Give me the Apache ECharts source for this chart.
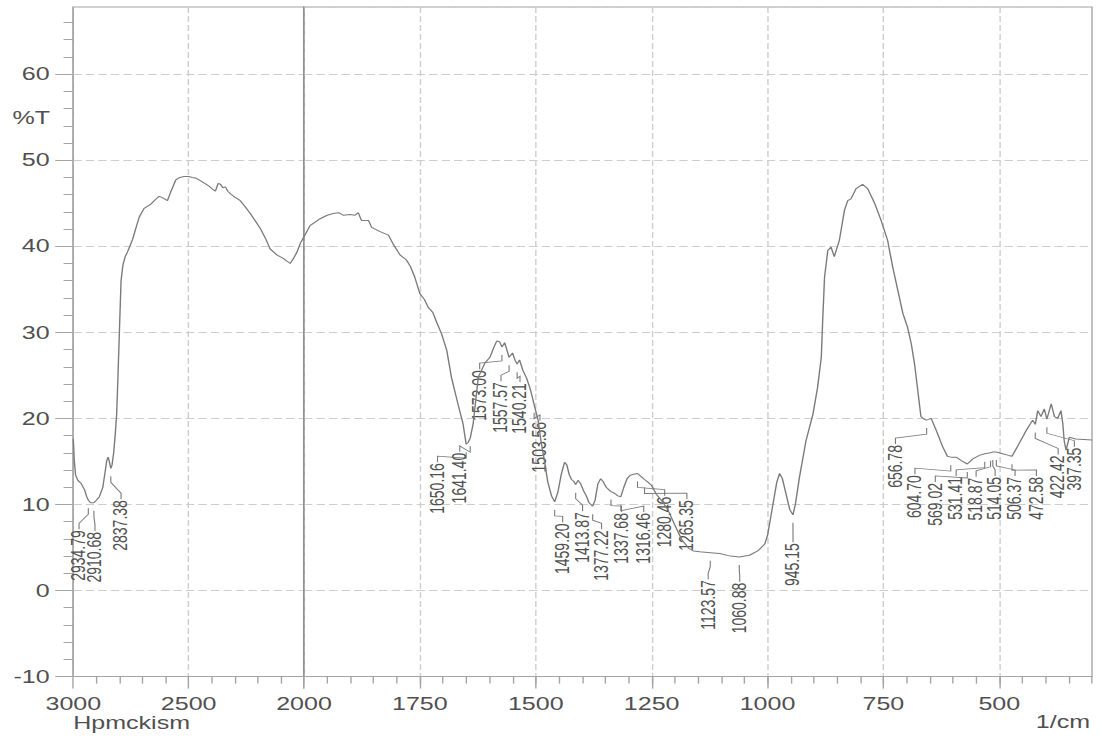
<!DOCTYPE html>
<html>
<head>
<meta charset="utf-8">
<script src="https://cdn.jsdelivr.net/npm/echarts@6/dist/echarts.min.js"></script>
<style>
  html, body { margin: 0; padding: 0; background: #fff; overflow: hidden; }
  #chart { position: absolute; left: 0; top: 0; transform-origin: 0 0; }
</style>
</head>
<body>
<div id="chart"></div>
<script>
// ---- FTIR transmittance spectrum, [wavenumber (1/cm), %T] ----
// 3000-2000 1/cm (compressed half-scale section)
const specHigh = [
  [3000, 17.6], [2996, 15.2], [2990, 13.4], [2980, 12.8], [2965, 12.4], [2951, 11.7],
  [2942, 10.9], [2925, 10.2], [2900, 10.5], [2887, 10.9], [2872, 12.0], [2862, 13.8],
  [2855, 15.1], [2849, 15.5], [2844, 15.0], [2832, 14.6], [2825, 16.0], [2818, 18.2],
  [2812, 20.5], [2807, 24.4], [2800, 30.2], [2793, 36.0], [2785, 37.8], [2775, 38.8],
  [2764, 39.4], [2743, 40.8], [2730, 42.0], [2714, 43.4], [2693, 44.4], [2664, 44.9],
  [2645, 45.4], [2628, 45.8], [2610, 45.6], [2592, 45.3], [2578, 46.3], [2556, 47.7],
  [2538, 48.0], [2520, 48.1], [2500, 48.1], [2484, 48.0], [2466, 47.9], [2448, 47.6],
  [2430, 47.3], [2412, 47.0], [2395, 46.6], [2384, 46.4], [2372, 47.3], [2362, 47.2],
  [2352, 46.8], [2341, 46.9], [2330, 46.4], [2319, 46.1], [2300, 45.7], [2276, 45.3],
  [2255, 44.6], [2233, 43.8], [2210, 42.9], [2190, 42.1], [2165, 40.8], [2147, 39.7],
  [2118, 39.0], [2090, 38.6], [2060, 38.0], [2045, 38.6], [2031, 39.3], [2015, 40.4],
  [2000, 41.1]
];
// 2000-300 1/cm
const specLow = [
  [2000, 41.1], [1987, 42.4], [1965, 43.2], [1950, 43.6], [1937, 43.8], [1925, 43.9],
  [1915, 43.6], [1901, 43.7], [1890, 43.6], [1883, 43.9], [1876, 43.0], [1861, 43.0],
  [1854, 42.2], [1836, 41.7], [1818, 41.3], [1808, 40.3], [1793, 39.0], [1779, 38.4],
  [1770, 37.6], [1761, 36.4], [1750, 34.5], [1740, 33.8], [1732, 32.9], [1722, 32.3],
  [1714, 31.2], [1703, 29.8], [1692, 27.9], [1682, 24.8], [1668, 21.7], [1657, 19.4],
  [1653, 18.0], [1646, 17.2], [1635, 19.4], [1624, 24.8], [1610, 26.4], [1599, 27.1],
  [1590, 28.3], [1584, 29.0], [1578, 28.9], [1567, 28.8], [1562, 27.9], [1550, 27.6],
  [1545, 26.8], [1535, 26.8], [1528, 25.6], [1520, 24.7], [1513, 23.6], [1508, 22.6],
  [1495, 19.8], [1488, 17.1], [1481, 15.0], [1474, 12.6], [1466, 11.0], [1452, 11.5],
  [1445, 13.5], [1438, 14.9], [1433, 14.6], [1428, 13.5], [1423, 12.9], [1418, 12.7],
  [1409, 12.8], [1403, 12.4], [1397, 11.6], [1391, 11.0], [1385, 10.2], [1372, 10.5],
  [1366, 12.4], [1360, 13.0], [1354, 12.6], [1348, 12.0], [1342, 11.7], [1330, 11.3],
  [1323, 11.0], [1310, 12.0], [1303, 13.0], [1296, 13.4], [1289, 13.5], [1272, 13.2],
  [1258, 12.6], [1250, 12.2], [1240, 11.2], [1229, 10.5], [1215, 9.4], [1200, 7.6],
  [1185, 5.9], [1170, 4.9], [1160, 4.6], [1146, 4.5], [1103, 4.3], [1080, 4.0],
  [1039, 4.1], [1021, 4.6], [1006, 5.4], [1000, 6.4], [990, 9.5], [980, 12.6],
  [974, 13.6], [968, 13.0], [960, 11.2], [952, 9.4], [940, 10.0], [931, 13.2],
  [917, 17.4], [902, 20.5], [892, 23.6], [884, 27.1], [881, 31.4], [877, 36.4],
  [870, 39.5], [863, 39.9], [856, 38.8], [845, 40.7], [834, 44.2], [827, 45.3],
  [820, 45.5], [809, 46.7], [795, 47.2], [784, 46.7], [769, 45.0], [755, 43.0],
  [741, 40.7], [730, 37.6], [719, 34.9], [708, 32.2], [698, 30.6], [690, 28.7],
  [683, 26.4], [676, 23.3], [669, 20.2], [662, 19.9], [647, 20.0], [636, 18.6],
  [622, 16.7], [612, 15.6], [593, 15.5], [582, 15.1], [557, 15.3], [543, 15.7],
  [493, 15.9], [480, 15.7], [457, 17.1], [442, 18.6], [428, 19.8], [417, 20.9],
  [410, 20.2], [403, 21.1], [388, 21.7], [381, 20.2], [374, 20.0], [367, 20.9],
  [363, 19.4], [360, 17.4], [356, 16.3], [349, 17.8], [335, 17.6], [300, 17.5]
];

// ---- picked peaks [wavenumber, %T] ----
const peaksHigh = [[2934.79, 10.5], [2910.68, 10.2], [2837.38, 14.2]];
const peaksLow = [
  [1650.16, 17.0], [1641.40, 17.7], [1573.00, 28.3], [1557.57, 27.1], [1540.21, 26.3],
  [1503.56, 21.6], [1459.20, 10.3], [1413.87, 12.3], [1377.22, 9.8], [1337.68, 11.5],
  [1316.46, 10.9], [1280.46, 13.6], [1265.35, 12.9], [1123.57, 4.4], [1060.88, 3.9],
  [945.15, 8.8], [656.78, 19.8], [604.70, 15.5], [569.02, 14.7], [531.41, 15.9],
  [518.87, 16.0], [514.05, 16.1], [506.37, 16.1], [472.58, 15.6], [422.42, 19.3],
  [397.35, 19.9]
];
// where each peak's label column ends (top of the rotated text), [wavenumber, %T]
const tagsHigh = [[2975, 7.0], [2906, 6.8], [2793, 10.5]];
const tagsLow = [
  [1712, 14.8], [1664, 16.0], [1621, 25.6], [1575, 24.2], [1534, 24.1],
  [1491, 19.6], [1442, 7.8], [1399, 9.1], [1358, 7.0], [1315, 9.0],
  [1267, 9.0], [1222, 10.9], [1174, 10.5], [1128, 1.2], [1060, 0.9],
  [945, 5.5], [724, 16.9], [682, 13.4], [638, 12.5], [593, 13.2],
  [550, 13.1], [509, 13.2], [466, 13.2], [420, 13.2], [373, 15.7],
  [338, 16.6]
];

// ---- axes ----
const yMin = -10, yMax = 67.8;
const yMajor = [-10, 0, 10, 20, 30, 40, 50, 60];
const yMinor = [-8, -6, -4, -2, 2, 4, 6, 8, 12, 14, 16, 18, 22, 24, 26, 28, 32, 34, 36, 38,
                42, 44, 46, 48, 52, 54, 56, 58, 62, 64, 66];
const xMajorLow = [2000, 1750, 1500, 1250, 1000, 750, 500];
const xLabelsLow = [1750, 1500, 1250, 1000, 750, 500];

// ---- look ----
const SX = 1.39;                 // the printout is drawn wider than tall
const W = 1102 / SX, H = 738;
const sx = v => v / SX;
const FONT = '"Liberation Sans", Arial, Helvetica, sans-serif';
const TXT = '#505050', CURVE = '#7a7a7a', BOX = '#a4a4a4', SPLIT = '#cdcdcd', BREAK = '#8f8f8f';

const el = document.getElementById('chart');
el.style.width = W + 'px';
el.style.height = H + 'px';
el.style.transform = 'scaleX(' + SX + ')';

const byWave = (a, b) => b[0] - a[0];
const lineHigh = specHigh.concat(peaksHigh).sort(byWave);
const lineLow = specLow.concat(peaksLow).sort(byWave);
const tagData = (pk, tg) => pk.map((p, i) => [p[0], p[1], tg[i][0], tg[i][1]]);

const plotTop = 7, plotBottom = 676.6;
const xLeft = 73.3, xBreak = 304, xRight = 1092;

function drawTag(params, api) {
  const p = api.coord([api.value(0), api.value(1)]);
  const q = api.coord([api.value(2), api.value(3)]);
  const pts = [[p[0], p[1] + 8], [p[0], p[1] + 14], [q[0], q[1] - 7], [q[0], q[1] - 1]];
  return {
    type: 'group',
    children: [
      { type: 'polyline', shape: { points: pts },
        style: { stroke: CURVE, fill: 'none', lineWidth: 0.8 } },
      { type: 'text', x: q[0], y: q[1], rotation: Math.PI / 2,
        style: { text: api.value(0).toFixed(2), align: 'right', verticalAlign: 'middle',
                 fill: TXT, fontSize: 14, fontFamily: FONT } }
    ]
  };
}

const plain = v => String(v);
const axisText = { fontFamily: FONT, fontSize: 18, color: TXT, formatter: plain };
const dashed = { color: SPLIT, type: [6, 3], width: 1 };
const gridBase = { top: plotTop, height: plotBottom - plotTop, show: true,
                   borderColor: BOX, borderWidth: 1, backgroundColor: 'transparent',
                   outerBoundsMode: 'none', containLabel: false };

const chart = echarts.init(el, null, { renderer: 'svg', width: W, height: H });
chart.setOption({
  animation: false,
  backgroundColor: '#fff',
  grid: [
    Object.assign({ left: sx(xLeft), width: sx(xBreak - xLeft) }, gridBase),
    Object.assign({ left: sx(xBreak), width: sx(xRight - xBreak) }, gridBase)
  ],
  xAxis: [
    { type: 'value', gridIndex: 0, position: 'bottom', min: 2000, max: 3000, interval: 500, inverse: true,
      axisLine: { show: true, onZero: false, lineStyle: { color: BOX } },
      axisTick: { show: true, length: 12, lineStyle: { color: BOX } },
      minorTick: { show: true, splitNumber: 5, length: 7, lineStyle: { color: BOX } },
      axisLabel: Object.assign({ margin: 18 }, axisText),
      splitLine: { show: true, lineStyle: dashed } },
    { type: 'value', gridIndex: 1, position: 'bottom', min: 300, max: 2000, interval: 50, inverse: true,
      axisLine: { show: true, onZero: false, lineStyle: { color: BOX } },
      axisTick: { show: true, length: 7, lineStyle: { color: BOX } },
      axisLabel: { show: false }, splitLine: { show: false } },
    { type: 'value', gridIndex: 1, position: 'bottom', min: 300, max: 2000, inverse: true,
      axisLine: { show: false, onZero: false },
      axisTick: { show: true, length: 12, customValues: xMajorLow, lineStyle: { color: BOX } },
      axisLabel: Object.assign({ margin: 18, customValues: xLabelsLow }, axisText),
      splitLine: { show: true, lineStyle: dashed } }
  ],
  yAxis: [
    { type: 'value', gridIndex: 0, position: 'left', min: yMin, max: yMax, interval: 10,
      axisLine: { show: true, onZero: false, lineStyle: { color: BOX } },
      axisTick: { show: true, length: 13, customValues: yMajor, lineStyle: { color: BOX } },
      axisLabel: Object.assign({ margin: 17, customValues: yMajor }, axisText),
      splitLine: { show: true, lineStyle: dashed } },
    { type: 'value', gridIndex: 0, position: 'left', min: yMin, max: yMax,
      axisLine: { show: false, onZero: false },
      axisTick: { show: true, length: 7, customValues: yMinor, lineStyle: { color: BOX } },
      axisLabel: { show: false }, splitLine: { show: false } },
    { type: 'value', gridIndex: 1, position: 'left', min: yMin, max: yMax, interval: 10,
      axisLine: { show: true, onZero: false, lineStyle: { color: BREAK } },
      axisTick: { show: false }, axisLabel: { show: false },
      splitLine: { show: true, lineStyle: dashed } }
  ],
  graphic: [
    { type: 'text', x: sx(50), y: 118, silent: true,
      style: { text: '%T', align: 'right', verticalAlign: 'middle', fill: TXT, fontSize: 18, fontFamily: FONT } },
    { type: 'text', x: sx(xLeft), y: 723, silent: true,
      style: { text: 'Hpmckism', align: 'left', verticalAlign: 'middle', fill: TXT, fontSize: 18, fontFamily: FONT } },
    { type: 'text', x: sx(1090), y: 722, silent: true,
      style: { text: '1/cm', align: 'right', verticalAlign: 'middle', fill: TXT, fontSize: 18, fontFamily: FONT } }
  ],
  series: [
    { type: 'line', xAxisIndex: 0, yAxisIndex: 0, data: lineHigh, showSymbol: false, silent: true,
      lineStyle: { color: CURVE, width: 1 } },
    { type: 'line', xAxisIndex: 1, yAxisIndex: 2, data: lineLow, showSymbol: false, silent: true,
      lineStyle: { color: CURVE, width: 1 } },
    { type: 'custom', xAxisIndex: 0, yAxisIndex: 0, data: tagData(peaksHigh, tagsHigh),
      renderItem: drawTag, clip: false, silent: true, z: 3 },
    { type: 'custom', xAxisIndex: 1, yAxisIndex: 2, data: tagData(peaksLow, tagsLow),
      renderItem: drawTag, clip: false, silent: true, z: 3 }
  ]
});
</script>
</body>
</html>
